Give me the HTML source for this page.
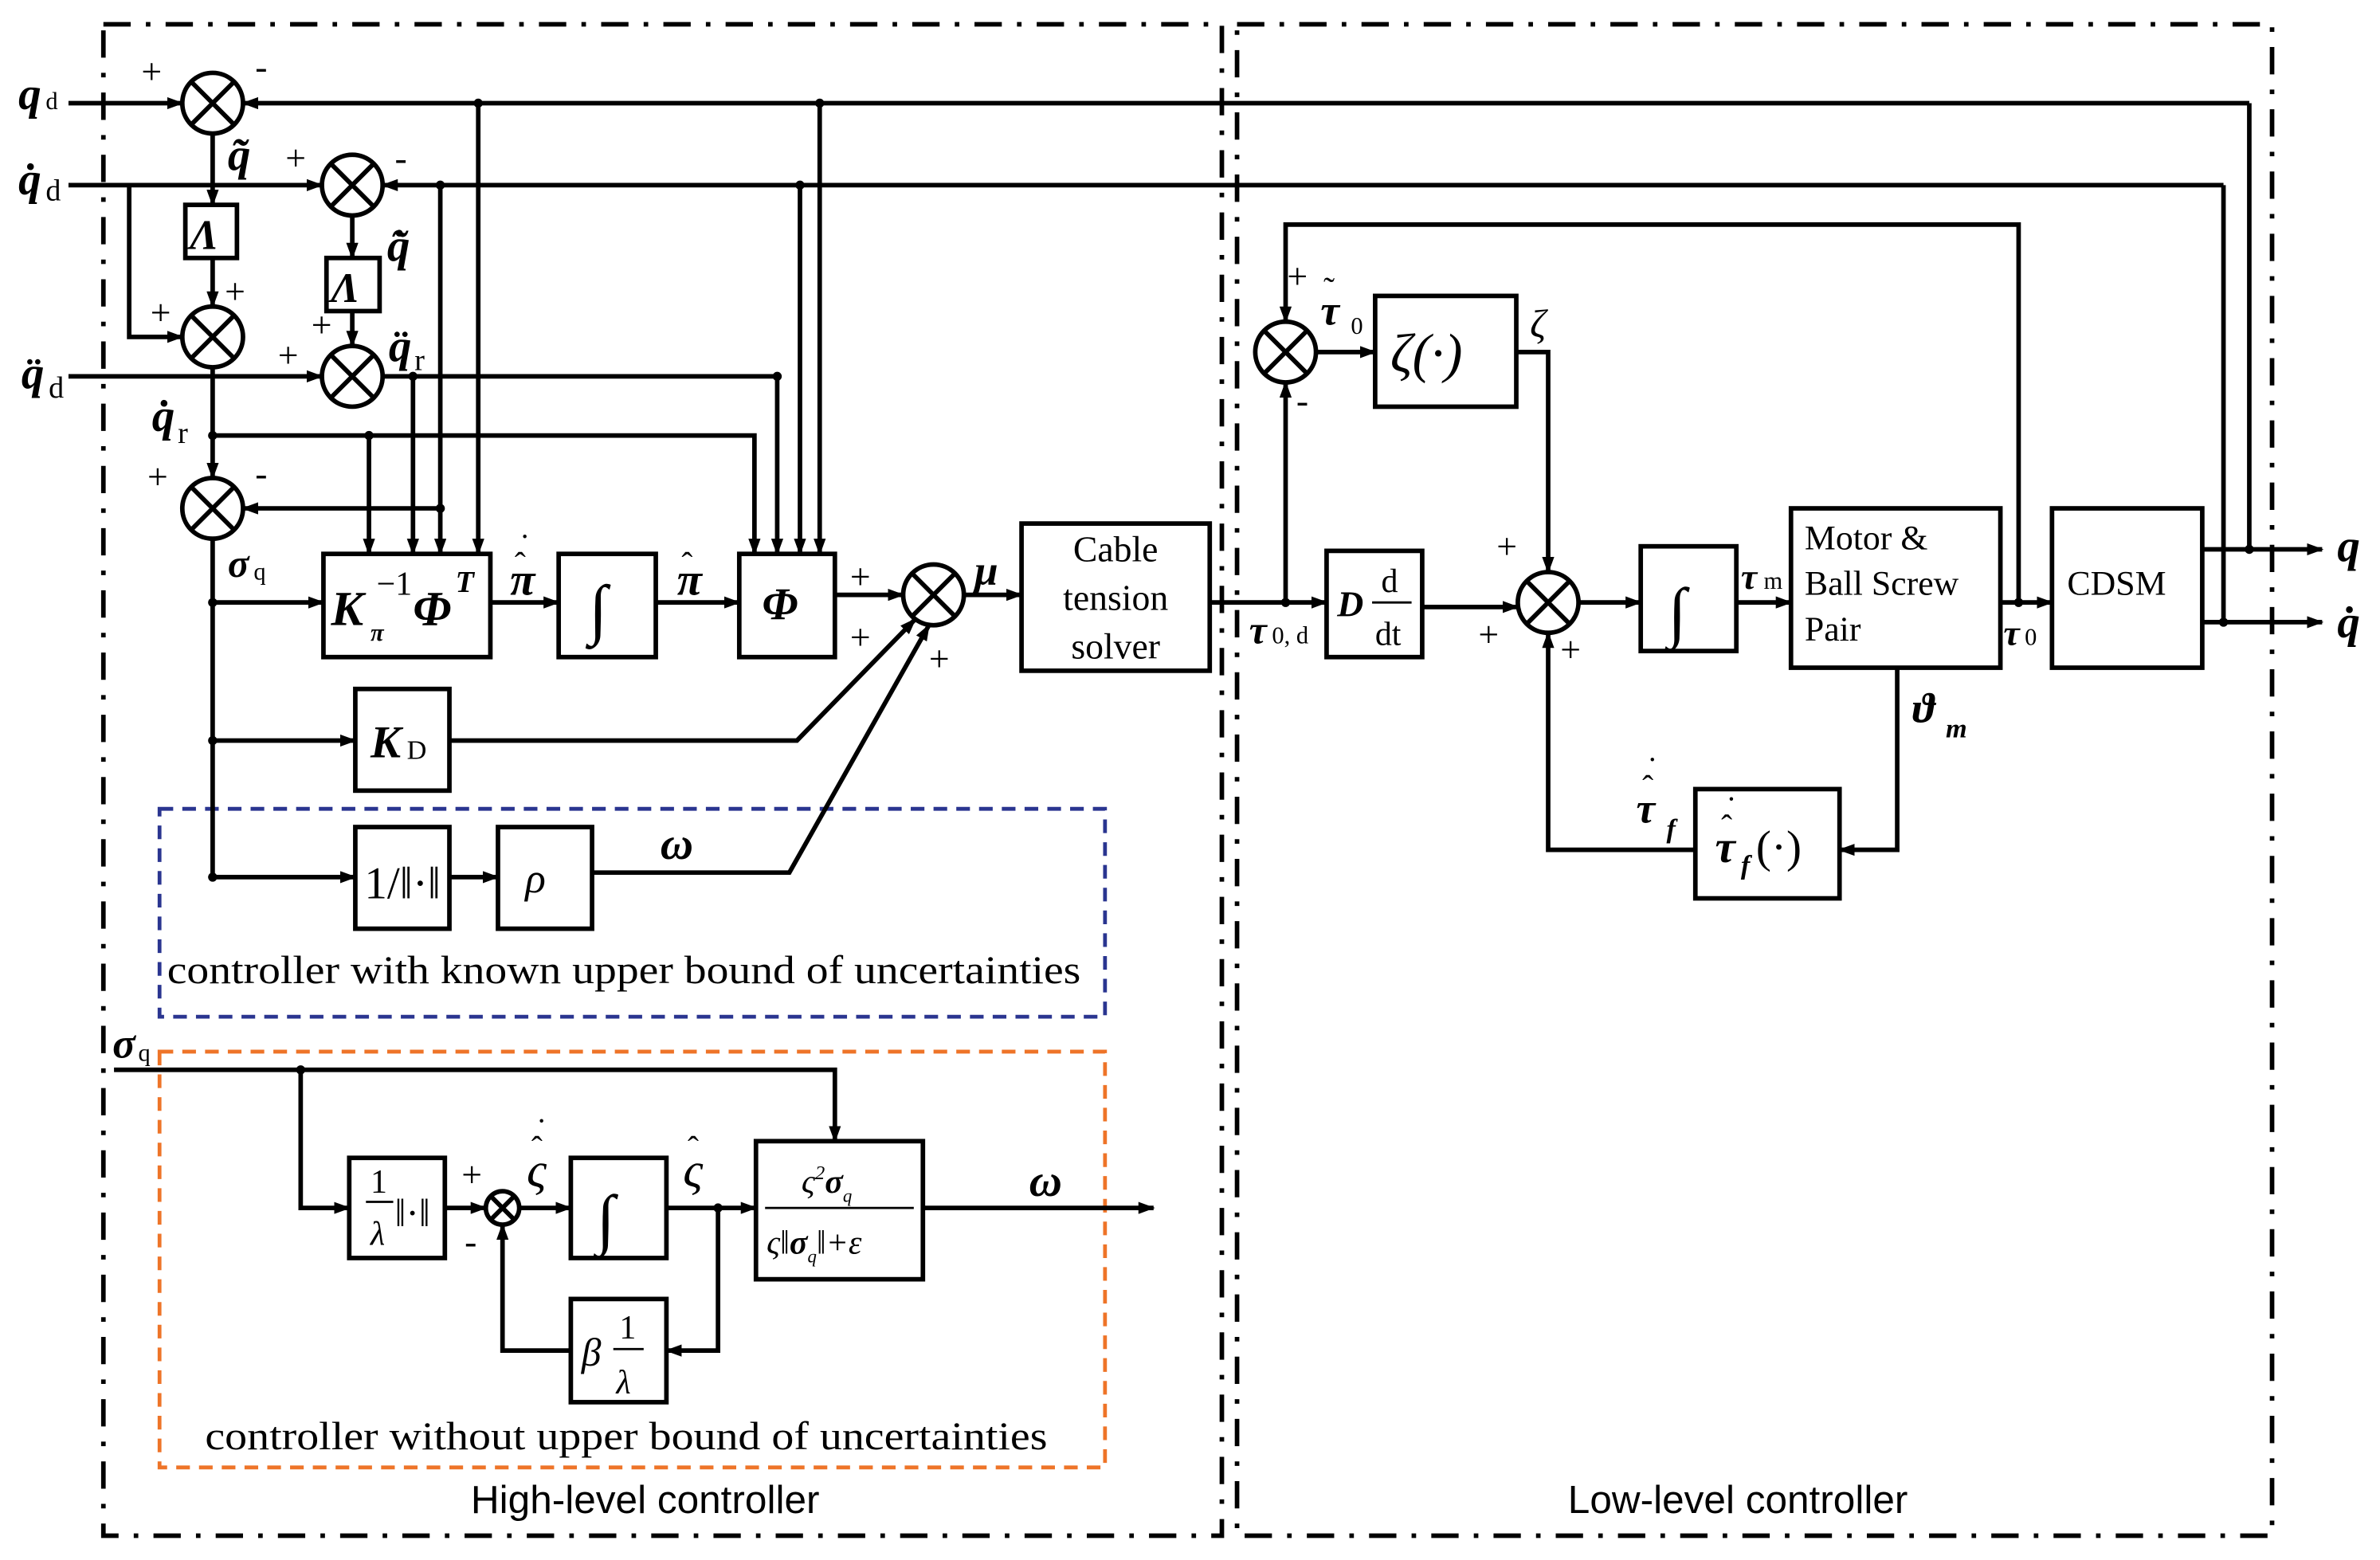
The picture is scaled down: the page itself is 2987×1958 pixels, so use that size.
<!DOCTYPE html>
<html><head><meta charset="utf-8"><style>
html,body{margin:0;padding:0;background:#fff}
svg{display:block}
.m{font-family:"Liberation Serif",serif;font-style:italic;font-weight:bold}
.r{font-family:"Liberation Serif",serif}
.s{font-family:"Liberation Sans",sans-serif}
</style></head><body>
<svg width="2987" height="1958" viewBox="0 0 1568 1028" xmlns="http://www.w3.org/2000/svg">
<defs><marker id="a" markerWidth="11" markerHeight="8" refX="10" refY="4" orient="auto" markerUnits="userSpaceOnUse"><path d="M0,0 L11,4 L0,8 z" fill="#000"/></marker></defs>
<rect width="1568" height="1028" fill="#fff"/>
<g fill="none" stroke="#000" stroke-width="3" stroke-dasharray="18,10,3,10">
<rect x="68" y="16" width="737" height="996"/>
<rect x="815" y="16" width="682" height="996"/>
</g>
<rect x="105" y="533" width="623" height="137" fill="none" stroke="#2a3590" stroke-width="2.5" stroke-dasharray="9,6"/>
<rect x="105" y="693" width="623" height="274" fill="none" stroke="#ee7428" stroke-width="2.5" stroke-dasharray="9,6"/>
<g fill="#fff" stroke="#000" stroke-width="3">
<rect x="122" y="135" width="34" height="35"/>
<rect x="215" y="170" width="35" height="35"/>
<rect x="213" y="365" width="110" height="68"/>
<rect x="368" y="365" width="64" height="68"/>
<rect x="487" y="365" width="63" height="68"/>
<rect x="673" y="345" width="124" height="97"/>
<rect x="234" y="454" width="62" height="67"/>
<rect x="234" y="545" width="62" height="67"/>
<rect x="328" y="545" width="62" height="67"/>
<rect x="230" y="763" width="63" height="66"/>
<rect x="376" y="763" width="63" height="66"/>
<rect x="498" y="752" width="110" height="91"/>
<rect x="376" y="856" width="63" height="68"/>
<rect x="906" y="195" width="93" height="73"/>
<rect x="874" y="363" width="63" height="70"/>
<rect x="1081" y="360" width="63" height="69"/>
<rect x="1180" y="335" width="138" height="105"/>
<rect x="1352" y="335" width="99" height="105"/>
<rect x="1117" y="520" width="95" height="72"/>
</g>
<g fill="none" stroke="#000" stroke-width="3">
<path d="M45,68 H120" marker-end="url(#a)"/>
<path d="M1482,68 H160" marker-end="url(#a)"/>
<path d="M1482,68 V362"/>
<path d="M45,122 H212" marker-end="url(#a)"/>
<path d="M85,122 V222 H120" marker-end="url(#a)"/>
<path d="M1465,122 H252" marker-end="url(#a)"/>
<path d="M1465,122 V410"/>
<path d="M140,88 V135" marker-end="url(#a)"/>
<path d="M140,170 V202" marker-end="url(#a)"/>
<path d="M232,142 V170" marker-end="url(#a)"/>
<path d="M232,205 V228" marker-end="url(#a)"/>
<path d="M45,248 H212" marker-end="url(#a)"/>
<path d="M252,248 H512 V365" marker-end="url(#a)"/>
<path d="M272,248 V365" marker-end="url(#a)"/>
<path d="M290,122 V365" marker-end="url(#a)"/>
<path d="M315,68 V365" marker-end="url(#a)"/>
<path d="M527,122 V365" marker-end="url(#a)"/>
<path d="M540,68 V365" marker-end="url(#a)"/>
<path d="M140,242 V315" marker-end="url(#a)"/>
<path d="M140,287 H497 V365" marker-end="url(#a)"/>
<path d="M243,287 V365" marker-end="url(#a)"/>
<path d="M290,335 H160" marker-end="url(#a)"/>
<path d="M140,355 V580"/>
<path d="M140,397 H213" marker-end="url(#a)"/>
<path d="M140,488 H234" marker-end="url(#a)"/>
<path d="M140,578 H234" marker-end="url(#a)"/>
<path d="M296,578 H328" marker-end="url(#a)"/>
<path d="M323,397 H368" marker-end="url(#a)"/>
<path d="M432,397 H487" marker-end="url(#a)"/>
<path d="M550,392 H595" marker-end="url(#a)"/>
<path d="M296,488 H525 L603,408" marker-end="url(#a)"/>
<path d="M390,575 H520 L612,412" marker-end="url(#a)"/>
<path d="M635,392 H673" marker-end="url(#a)"/>
<path d="M797,397 H874" marker-end="url(#a)"/>
<path d="M847,397 V252" marker-end="url(#a)"/>
<path d="M867,232 H906" marker-end="url(#a)"/>
<path d="M999,232 H1020 V377" marker-end="url(#a)"/>
<path d="M1330,397 V148 H847 V212" marker-end="url(#a)"/>
<path d="M937,400 H1000" marker-end="url(#a)"/>
<path d="M1040,397 H1081" marker-end="url(#a)"/>
<path d="M1144,397 H1180" marker-end="url(#a)"/>
<path d="M1318,397 H1352" marker-end="url(#a)"/>
<path d="M1250,440 V560 H1212" marker-end="url(#a)"/>
<path d="M1117,560 H1020 V417" marker-end="url(#a)"/>
<path d="M1451,362 H1530" marker-end="url(#a)"/>
<path d="M1451,410 H1530" marker-end="url(#a)"/>
<path d="M75,705 H550 V752" marker-end="url(#a)"/>
<path d="M198,705 V796 H230" marker-end="url(#a)"/>
<path d="M293,796 H320" marker-end="url(#a)"/>
<path d="M342,796 H376" marker-end="url(#a)"/>
<path d="M439,796 H498" marker-end="url(#a)"/>
<path d="M608,796 H760" marker-end="url(#a)"/>
<path d="M473,796 V890 H439" marker-end="url(#a)"/>
<path d="M376,890 H331 V807" marker-end="url(#a)"/>
</g>
<g fill="#000">
<circle cx="315" cy="68" r="3"/><circle cx="540" cy="68" r="3"/>
<circle cx="290" cy="122" r="3"/><circle cx="527" cy="122" r="3"/>
<circle cx="272" cy="248" r="3"/><circle cx="512" cy="248" r="3"/>
<circle cx="140" cy="287" r="3"/><circle cx="243" cy="287" r="3"/><circle cx="290" cy="335" r="3"/>
<circle cx="140" cy="397" r="3"/><circle cx="140" cy="488" r="3"/><circle cx="140" cy="578" r="3"/>
<circle cx="847" cy="397" r="3"/><circle cx="1330" cy="397" r="3"/>
<circle cx="1482" cy="362" r="3"/><circle cx="1465" cy="410" r="3"/>
<circle cx="198" cy="705" r="3"/><circle cx="473" cy="796" r="3"/>
</g>
<g fill="#fff" stroke="#000" stroke-width="3">
<g transform="translate(140,68)"><circle r="20"/><path d="M-14,-14L14,14M14,-14L-14,14"/></g>
<g transform="translate(232,122)"><circle r="20"/><path d="M-14,-14L14,14M14,-14L-14,14"/></g>
<g transform="translate(140,222)"><circle r="20"/><path d="M-14,-14L14,14M14,-14L-14,14"/></g>
<g transform="translate(232,248)"><circle r="20"/><path d="M-14,-14L14,14M14,-14L-14,14"/></g>
<g transform="translate(140,335)"><circle r="20"/><path d="M-14,-14L14,14M14,-14L-14,14"/></g>
<g transform="translate(615,392)"><circle r="20"/><path d="M-14,-14L14,14M14,-14L-14,14"/></g>
<g transform="translate(847,232)"><circle r="20"/><path d="M-14,-14L14,14M14,-14L-14,14"/></g>
<g transform="translate(1020,397)"><circle r="20"/><path d="M-14,-14L14,14M14,-14L-14,14"/></g>
<g transform="translate(331,796)"><circle r="11"/><path d="M-8,-8L8,8M8,-8L-8,8"/></g>
</g>
<g font-size="24">
<text class="m" x="12" y="72" font-size="30">q</text><text class="r" x="30" y="72" font-size="16">d</text>
<text class="m" x="12" y="128" font-size="30">q̇</text><text class="r" x="30" y="132" font-size="20">d</text>
<text class="m" x="14" y="256" font-size="30">q̈</text><text class="r" x="32" y="262" font-size="20">d</text>
<text class="r" x="93" y="55">+</text><text class="r" x="168" y="52">-</text>
<text class="m" x="150" y="112" font-size="30">q̃</text>
<text class="r" x="188" y="112">+</text><text class="r" x="260" y="112">-</text>
<text class="m" x="255" y="172" font-size="30">q̃̇</text>
<text class="m" x="125" y="164" font-size="28">Λ</text>
<text class="m" x="218" y="199" font-size="28">Λ</text>
<text class="r" x="99" y="214">+</text><text class="r" x="148" y="200">+</text>
<text class="r" x="183" y="242">+</text><text class="r" x="205" y="222">+</text>
<text class="m" x="256" y="238" font-size="30">q̈</text><text class="r" x="273" y="244" font-size="20">r</text>
<text class="m" x="100" y="284" font-size="30">q̇</text><text class="r" x="117" y="292" font-size="20">r</text>
<text class="r" x="97" y="322">+</text><text class="r" x="168" y="320">-</text>
<text class="m" x="150" y="380" font-size="26">σ</text><text class="r" x="167" y="382" font-size="16">q</text>
<text class="m" x="218" y="412" font-size="32">K</text><text class="m" x="244" y="422" font-size="16">π</text><text class="r" x="248" y="392" font-size="22">−1</text><text class="m" x="272" y="412" font-size="32">Φ</text><text class="m" x="300" y="390" font-size="20">T</text>
<text class="m" x="336" y="392" font-size="30">π</text><text class="r" x="339" y="379" font-size="22">ˆ</text><text class="r" x="342" y="367" font-size="22">˙</text>
<text class="r" x="388" y="416" font-size="44">∫</text>
<text class="m" x="446" y="392" font-size="30">π</text><text class="r" x="449" y="379" font-size="22">ˆ</text>
<text class="m" x="502" y="408" font-size="30">Φ</text>
<text class="r" x="560" y="388">+</text><text class="r" x="560" y="428">+</text><text class="r" x="612" y="442">+</text>
<text class="m" x="642" y="385" font-size="28">μ</text>
<text class="r" x="735" y="370" text-anchor="middle">Cable</text>
<text class="r" x="735" y="402" text-anchor="middle">tension</text>
<text class="r" x="735" y="434" text-anchor="middle">solver</text>
<text class="m" x="244" y="499" font-size="30">K</text><text class="r" x="268" y="500" font-size="18">D</text>
<text class="r" x="240" y="592" font-size="30">1/‖·‖</text>
<text class="r" x="346" y="588" font-size="28" font-style="italic">ρ</text>
<text class="m" x="435" y="566" font-size="30">ω</text>
<text class="r" x="110" y="648" font-size="26" textLength="602" lengthAdjust="spacingAndGlyphs">controller with known upper bound of uncertainties</text>
<text class="m" x="74" y="697" font-size="28">σ</text><text class="r" x="91" y="699" font-size="16">q</text>
<text class="r" x="244" y="786" font-size="22">1</text><line x1="241" y1="792" x2="259" y2="792" stroke="#000" stroke-width="1.5"/><text class="r" x="244" y="820" font-size="22" font-style="italic">λ</text><text class="r" x="260" y="808" font-size="26">‖·‖</text>
<text class="r" x="304" y="782">+</text><text class="r" x="306" y="826">-</text>
<text class="r" x="347" y="782" font-size="32" font-style="italic">ς</text><text class="r" x="350" y="764" font-size="22">ˆ</text><text class="r" x="353" y="752" font-size="22">˙</text>
<text class="r" x="393" y="818" font-size="44">∫</text>
<text class="r" x="450" y="782" font-size="32" font-style="italic">ς</text><text class="r" x="453" y="764" font-size="22">ˆ</text>
<text class="r" x="528" y="786" font-size="22" font-style="italic">ς<tspan font-size="13" dy="-9">2</tspan><tspan class="m" dy="9">σ</tspan><tspan font-size="12" dy="6">q</tspan></text>
<line x1="504" y1="796" x2="602" y2="796" stroke="#000" stroke-width="1.5"/>
<text class="r" x="505" y="826" font-size="22" font-style="italic">ς‖<tspan class="m">σ</tspan><tspan font-size="12" dy="6">q</tspan><tspan dy="-6">‖+ε</tspan></text>
<text class="m" x="678" y="788" font-size="30">ω</text>
<text class="r" x="383" y="900" font-size="26" font-style="italic">β</text><text class="r" x="408" y="882" font-size="22">1</text><line x1="404" y1="889" x2="424" y2="889" stroke="#000" stroke-width="1.5"/><text class="r" x="406" y="918" font-size="22" font-style="italic">λ</text>
<text class="r" x="135" y="955" font-size="26" textLength="555" lengthAdjust="spacingAndGlyphs">controller without upper bound of uncertainties</text>
<text class="s" x="425" y="997" font-size="26" text-anchor="middle">High-level controller</text>
<text class="s" x="1145" y="997" font-size="26" text-anchor="middle">Low-level controller</text>
<text class="r" x="848" y="190">+</text><text class="r" x="854" y="272">-</text>
<text class="m" x="870" y="214" font-size="28">τ</text><text class="r" x="872" y="198" font-size="22">˜</text><text class="r" x="890" y="220" font-size="16">0</text>
<text class="r" x="916" y="245" font-size="36" font-style="italic">ζ(·)</text>
<text class="r" x="1008" y="222" font-size="26" font-style="italic">ζ</text>
<text class="m" x="823" y="424" font-size="26">τ</text><text class="r" x="838" y="424" font-size="16">0, d</text>
<text class="m" x="881" y="406" font-size="24">D</text><text class="r" x="910" y="390" font-size="22">d</text><line x1="904" y1="397" x2="930" y2="397" stroke="#000" stroke-width="1.5"/><text class="r" x="906" y="425" font-size="22">dt</text>
<text class="r" x="986" y="368">+</text><text class="r" x="974" y="426">+</text><text class="r" x="1028" y="436">+</text>
<text class="r" x="1099" y="418" font-size="44">∫</text>
<text class="m" x="1147" y="388" font-size="24">τ</text><text class="r" x="1162" y="388" font-size="16">m</text>
<text class="r" x="1189" y="362" font-size="23">Motor &amp;</text>
<text class="r" x="1189" y="392" font-size="23">Ball Screw</text>
<text class="r" x="1189" y="422" font-size="23">Pair</text>
<text class="m" x="1320" y="425" font-size="24">τ</text><text class="r" x="1334" y="425" font-size="16">0</text>
<text class="r" x="1362" y="392" font-size="23">CDSM</text>
<text class="m" x="1260" y="476" font-size="28">ϑ</text><text class="m" x="1282" y="486" font-size="18">m</text>
<text class="m" x="1078" y="542" font-size="28">τ</text><text class="r" x="1082" y="526" font-size="22">ˆ</text><text class="r" x="1085" y="514" font-size="22">˙</text><text class="m" x="1098" y="552" font-size="18">f</text>
<text class="m" x="1130" y="568" font-size="30">τ</text><text class="r" x="1134" y="552" font-size="22">ˆ</text><text class="r" x="1137" y="540" font-size="22">˙</text><text class="m" x="1147" y="576" font-size="18">f</text><text class="r" x="1157" y="568" font-size="30">(·)</text>
<text class="m" x="1540" y="370" font-size="30">q</text>
<text class="m" x="1540" y="420" font-size="30">q̇</text>
</g>
</svg>
</body></html>
